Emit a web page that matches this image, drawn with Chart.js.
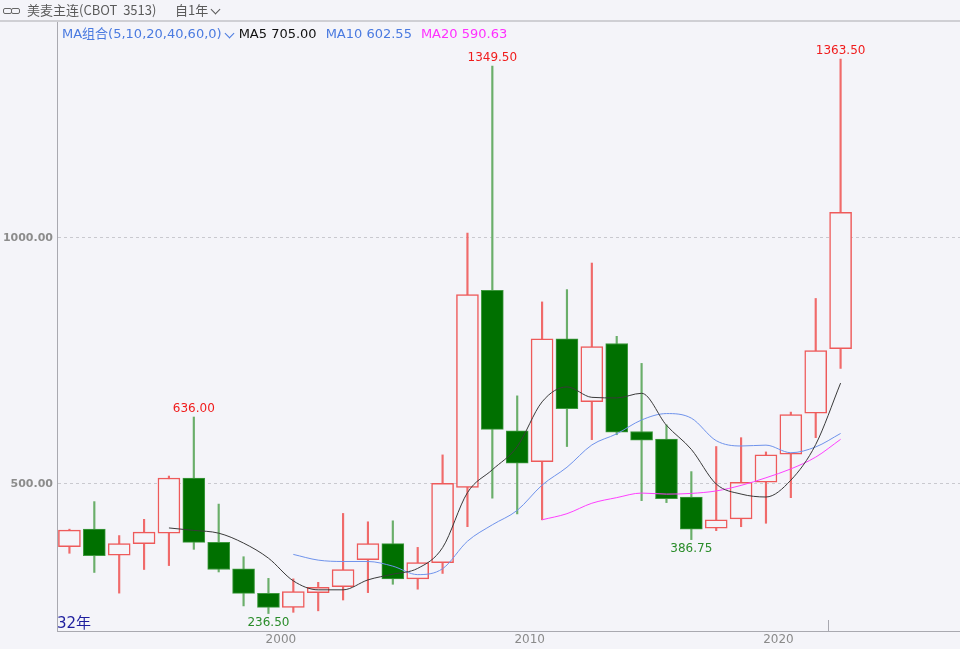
<!DOCTYPE html>
<html>
<head>
<meta charset="utf-8">
<script src="https://cdn.jsdelivr.net/npm/chart.js@4/dist/chart.umd.min.js"></script>
<style>
html, body { margin: 0; padding: 0; background: #f4f4f9; }
#wrap { position: relative; width: 960px; height: 649px; overflow: hidden; }
#c { position: absolute; left: 0; top: 0; }
.row1 { position: absolute; left: 0; top: 0; height: 21px; line-height: 25px; font: 13px "Noto Sans CJK SC", sans-serif; color: #5a5a5a; white-space: nowrap; }
.row2 { position: absolute; left: 62px; top: 23px; height: 18px; line-height: 18px; font: 13px "DejaVu Sans", "Noto Sans CJK SC", sans-serif; white-space: nowrap; }
.row2 span { margin-right: 9px; }
.chev { display: inline-block; width: 6px; height: 6px; border-right: 1.5px solid currentColor; border-bottom: 1.5px solid currentColor; transform: rotate(45deg); margin: 0 3px 3px 4px; vertical-align: middle; }
.link { position: absolute; left: 3px; top: 8px; width: 16px; height: 6px; }
.link i { position: absolute; top: 0; width: 7px; height: 4px; border: 1.5px solid #666; border-radius: 2px; }
.count { position: absolute; left: 57px; top: 611px; font: 15px "DejaVu Sans", "Noto Sans CJK SC", sans-serif; color: #1e1e9e; }
</style>
</head>
<body>
<div id="wrap">
  <canvas id="c" width="960" height="649"></canvas>
  <div class="link"><i style="left:0"></i><i style="left:8px"></i></div>
  <div class="row1" style="left:27px;">美麦主连(CBOT&nbsp;&nbsp;3513)</div>
  <div class="row1" style="left:175px;">自1年<span class="chev"></span></div>
  <div class="row2" id="maRow"></div>
  <div class="count">32年</div>
</div>
<script>
const years = [1991, 1992, 1993, 1994, 1995, 1996, 1997, 1998, 1999, 2000,
  2001, 2002, 2003, 2004, 2005, 2006, 2007, 2008, 2009, 2010,
  2011, 2012, 2013, 2014, 2015, 2016, 2017, 2018, 2019, 2020, 2021, 2022];
const openP = [372.5, 408, 355, 378.5, 400, 512, 381, 327.5, 277.5, 249,
  279, 291, 346, 378.5, 307, 340, 493, 893.5, 608, 545,
  795, 667, 785.5, 606.5, 591, 473, 410, 429, 503.5, 560.5, 644, 775];
const highP = [408, 464, 395, 428, 516, 636, 459, 352, 308, 307,
  300, 440, 423, 425, 371, 559, 1010, 1349.5, 679, 870,
  895, 949, 800, 745, 620, 525, 576, 594, 565, 646, 877, 1363.5];
const lowP = [359, 320, 278, 326, 334, 367, 321, 252, 236.5, 239,
  242, 264, 279, 296, 286, 318, 413, 471, 439, 427,
  576, 590, 600, 466, 462, 386.75, 405, 413, 420, 472, 594, 735];
const closeP = [406, 354, 378.5, 402, 512, 381, 326, 277.5, 249, 281,
  290, 326, 378.5, 307, 340, 501, 885, 611, 542, 795,
  653, 779, 605, 589, 470, 408, 427, 503, 559, 641, 771, 1052];
const ma5 = [null, null, null, null, 410.5, 405.5, 399.9, 379.7, 349.1, 302.9,
  284.7, 284.7, 304.9, 316.5, 328.3, 370.5, 482.3, 528.8, 575.8, 666.8,
  697.2, 676, 674.8, 684.2, 619.2, 570.2, 499.8, 479.4, 473.4, 507.6, 580.2, 705.0];
const ma10 = [null, null, null, null, null, null, null, null, null, 356.7,
  345.1, 342.3, 342.3, 332.8, 315.6, 327.6, 383.5, 416.9, 446.2, 497.6,
  533.9, 579.2, 601.8, 630, 643, 633.7, 587.9, 577.1, 578.8, 563.4, 575.2, 602.55];
const ma20 = [null, null, null, null, null, null, null, null, null, null,
  null, null, null, null, null, null, null, null, null, 427.1,
  439.5, 460.7, 472.1, 481.4, 479.3, 480.7, 485.7, 497, 512.5, 530.5, 554.5, 590.63];
const peakYears = [1996, 2008, 2022];
const troughYears = [1999, 2016];
const yTicks = [500, 1000];
const xTicks = [2000, 2010, 2020];
const markYear = 2022;

const bg = '#f4f4f9';
const upColor = '#ee5a5a';
const downFill = '#007000';
const downEdge = '#3f993f';
const isUp = years.map((y, i) => closeP[i] >= openP[i]);

document.getElementById('maRow').innerHTML =
  '<span style="color:#4a7ae0;margin-right:6px">MA组合(5,10,20,40,60,0)<span class="chev" style="margin-right:0"></span></span>' +
  '<span style="color:#111">MA5 ' + ma5[ma5.length - 1].toFixed(2) + '</span>' +
  '<span style="color:#4a7ae0">MA10 ' + ma10[ma10.length - 1].toFixed(2) + '</span>' +
  '<span style="color:#ff30ff">MA20 ' + ma20[ma20.length - 1].toFixed(2) + '</span>';

const pt = (arr) => years.map((y, i) => ({ x: y + 0.5, y: arr[i] }));

const framePlugin = {
  id: 'frame',
  beforeDraw(chart) {
    const ctx = chart.ctx;
    ctx.save();
    ctx.fillStyle = bg;
    ctx.fillRect(0, 0, chart.width, chart.height);
    ctx.restore();
  },
  afterDraw(chart) {
    const { ctx, chartArea } = chart;
    ctx.save();
    ctx.strokeStyle = '#cfcfd4';
    ctx.lineWidth = 2;
    ctx.beginPath();
    ctx.moveTo(0, chartArea.top - 1);
    ctx.lineTo(chart.width, chartArea.top - 1);
    ctx.stroke();
    ctx.restore();
  }
};

const markPlugin = {
  id: 'marks',
  afterDatasetsDraw(chart) {
    const { ctx, scales: { x, y }, chartArea } = chart;
    ctx.save();
    ctx.font = '12px "DejaVu Sans"';
    ctx.textAlign = 'center';
    ctx.fillStyle = '#f01c1c';
    ctx.textBaseline = 'bottom';
    peakYears.forEach(yr => {
      const i = years.indexOf(yr);
      ctx.fillText(highP[i].toFixed(2), x.getPixelForValue(yr + 0.5), y.getPixelForValue(highP[i]) - 2);
    });
    ctx.fillStyle = '#2a8c2a';
    ctx.textBaseline = 'top';
    troughYears.forEach(yr => {
      const i = years.indexOf(yr);
      ctx.fillText(lowP[i].toFixed(2), x.getPixelForValue(yr + 0.5), y.getPixelForValue(lowP[i]) + 3);
    });
    const mx = Math.round(x.getPixelForValue(markYear)) + 0.5;
    ctx.strokeStyle = '#a8a8b0';
    ctx.lineWidth = 1;
    ctx.beginPath();
    ctx.moveTo(mx, chartArea.bottom - 11);
    ctx.lineTo(mx, chartArea.bottom);
    ctx.stroke();
    ctx.restore();
  }
};

new Chart(document.getElementById('c'), {
  type: 'bar',
  data: {
    datasets: [
      {
        label: 'MA5', type: 'line', order: 0,
        data: pt(ma5), borderColor: '#3a3a3a', borderWidth: 1,
        pointRadius: 0, cubicInterpolationMode: 'monotone'
      },
      {
        label: 'MA10', type: 'line', order: 0,
        data: pt(ma10), borderColor: '#6f93ec', borderWidth: 1,
        pointRadius: 0, cubicInterpolationMode: 'monotone'
      },
      {
        label: 'MA20', type: 'line', order: 0,
        data: pt(ma20), borderColor: '#ff40ff', borderWidth: 1,
        pointRadius: 0, cubicInterpolationMode: 'monotone'
      },
      {
        label: 'body', order: 1, grouped: false, barThickness: 22,
        data: years.map((y, i) => ({ x: y + 0.5, y: [Math.min(openP[i], closeP[i]), Math.max(openP[i], closeP[i])] })),
        backgroundColor: isUp.map(u => u ? bg : downFill),
        borderColor: isUp.map(u => u ? upColor : downEdge),
        borderWidth: isUp.map(u => u ? 1.5 : 1),
        borderSkipped: false
      },
      {
        label: 'wick', order: 2, grouped: false, barThickness: 1.5,
        data: years.map((y, i) => ({ x: y + 0.5, y: [lowP[i], highP[i]] })),
        backgroundColor: isUp.map(u => u ? '#f06a6a' : '#6aae6a'),
        borderWidth: 0
      }
    ]
  },
  options: {
    responsive: false,
    animation: false,
    layout: { padding: { top: 22, left: 0, right: 0, bottom: 0 } },
    plugins: { legend: { display: false }, tooltip: { enabled: false } },
    scales: {
      x: {
        type: 'linear', min: 1991, max: 2027.3, offset: false,
        afterBuildTicks: s => { s.ticks = xTicks.map(v => ({ value: v })); },
        afterFit: s => { s.height = 18; },
        grid: { display: false, drawTicks: false, offset: false },
        border: { display: true, color: '#a9a9b0', width: 1 },
        ticks: { padding: 2, color: '#8a8a8a', font: { family: 'DejaVu Sans', size: 12 }, maxRotation: 0, callback: v => String(v) }
      },
      y: {
        min: 201, max: 1439,
        afterBuildTicks: s => { s.ticks = yTicks.map(v => ({ value: v })); },
        afterFit: s => { s.width = 57; },
        grid: { color: '#c9c9cf', drawTicks: false },
        border: { display: true, color: '#a9a9b0', width: 1, dash: [3, 3] },
        ticks: { padding: 4, color: '#8c8c8c', font: { family: 'DejaVu Sans', size: 11, weight: 'bold' }, callback: v => v.toFixed(2) }
      }
    }
  },
  plugins: [framePlugin, markPlugin]
});
</script>
</body>
</html>
